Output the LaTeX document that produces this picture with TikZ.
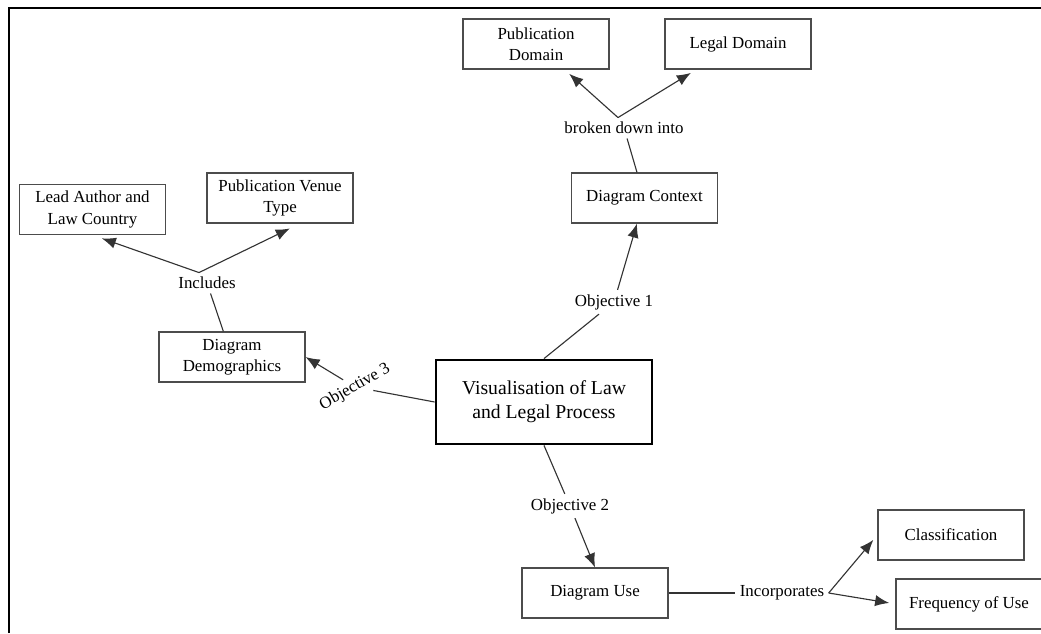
\documentclass[tikz,border=0pt]{standalone}
\usepackage{fontspec}
\setmainfont{Liberation Serif}
\usetikzlibrary{arrows.meta}
\begin{document}
\begin{tikzpicture}[x=0.025cm,y=-0.025cm,
		box/.style={draw=black!70,line width=.8pt,minimum width=3.65cm,minimum height=1.25cm,align=center,inner sep=2pt,font=\fontsize{12}{15}\selectfont},
		mainbox/.style={draw=black,line width=2pt,minimum width=5.4cm,minimum height=2.1cm,align=center,font=\fontsize{14}{17}\selectfont},
		lbl/.style={inner sep=3pt,font=\fontsize{12}{15}\selectfont},
		link/.style={draw=black!80,line width=.8pt},
		arr/.style={link,-{Latex[length=10pt,width=8pt]}},
		branch/.style={arr,shorten >=4.5pt}]
	\useasboundingbox (0,0) rectangle (1041,633);
	\draw [line width=2pt] (9,633) -- (9,8) -- (1041,8);

	\node [mainbox] (vis) at (544,402) {Visualisation of Law\\and Legal Process};

	\node [box] (pd) at (536,44) {Publication\\Domain};	\node [box] (ld) at (738,44) {Legal Domain};
	\node [box] (dc) at (644.5,198) {Diagram Context};
	\node [lbl] (bdi) at (624,128) {broken down into};
	\node [lbl] (ob1) at (614,302) {Objective 1};

	\node [box] (la) at (92.5,209.5) {Lead Author and\\Law Country};	\node [box] (pv) at (280,198) {Publication Venue\\Type};
	\node [lbl] (inc) at (207,283) {Includes};
	\node [box] (dd) at (232,357) {Diagram\\Demographics};
	\node [lbl,rotate=30] (ob3) at (355,387) {Objective 3};

	\node [lbl] (ob2) at (570,506) {Objective 2};
	\node [box] (du) at (595,593) {Diagram Use};
	\node [lbl] (icp) at (782,593) {Incorporates};
	\node [box] (cls) at (951,535) {Classification};
	\node [box] (fou) at (969,604) {Frequency of Use};

	\draw [link] (vis.north) -- (ob1);
	\draw [arr] (ob1) -- (dc);
	\draw [link] (dc) -- (bdi);
	\draw [branch] ([xshift=-.15cm]bdi.north) -- (pd);
	\draw [branch] ([xshift=-.15cm]bdi.north) -- (ld);

	\draw [link] (vis.west) -- (ob3);
	\draw [arr] (ob3) -- (dd.east);
	\draw [link] (dd) -- (inc);
	\draw [branch,shorten >=7pt] ([xshift=-.2cm]inc.north) -- (la.south);
	\draw [branch,shorten >=8pt] ([xshift=-.2cm]inc.north) -- ([xshift=.5cm]pv.south);

	\draw [link] (vis.south) -- (ob2);
	\draw [arr] (ob2) -- (du.north);
	\draw [link] (du) -- (icp);
	\draw [branch] (icp.east) -- (cls.west);
	\draw [branch] (icp.east) -- (fou.west);
\end{tikzpicture}
\end{document}
